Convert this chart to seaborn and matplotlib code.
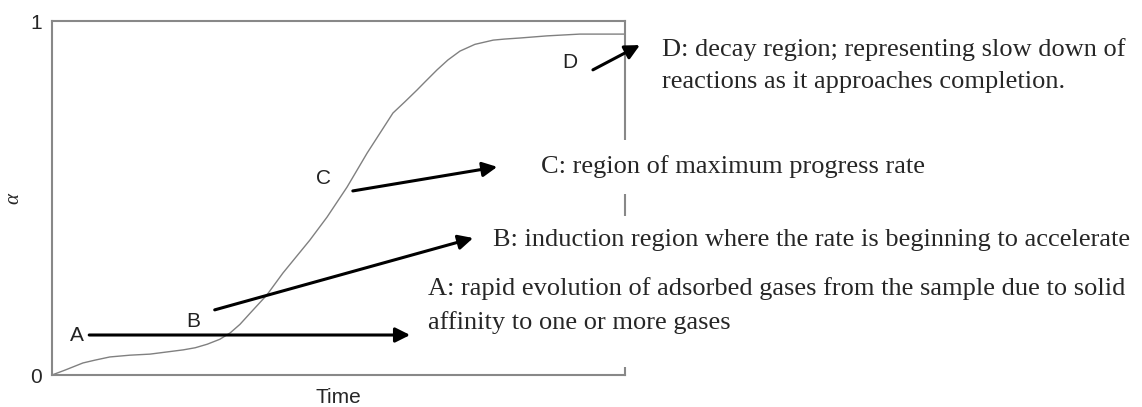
import numpy as np
import pandas as pd
import matplotlib
matplotlib.use("Agg")
import matplotlib.pyplot as plt
import seaborn as sns

# curve (time and alpha both scaled 0..1)
time_vals = [0.0, 0.023, 0.054, 0.075, 0.101, 0.136, 0.171, 0.229, 0.250, 0.271,
             0.293, 0.311, 0.328, 0.346, 0.375, 0.403, 0.450, 0.480, 0.515, 0.550,
             0.595, 0.616, 0.637, 0.651, 0.672, 0.691, 0.712, 0.738, 0.770, 0.790,
             0.817, 0.864, 0.921, 1.0]
alpha_vals = [0.0, 0.014, 0.034, 0.042, 0.051, 0.056, 0.059, 0.071, 0.077, 0.087,
              0.101, 0.119, 0.143, 0.175, 0.226, 0.288, 0.381, 0.446, 0.531, 0.627,
              0.740, 0.772, 0.805, 0.828, 0.862, 0.890, 0.915, 0.934, 0.946, 0.949,
              0.952, 0.958, 0.963, 0.963]

# region letters and where they sit
region_letters = ["A", "B", "C", "D"]
letter_x = [0.044, 0.246, 0.473, 0.904]
letter_y = [0.113, 0.150, 0.554, 0.884]

# arrows: start -> end
arrow_x0 = [0.065, 0.284, 0.525, 0.944]
arrow_y0 = [0.113, 0.184, 0.520, 0.862]
arrow_x1 = [0.625, 0.735, 0.777, 1.026]
arrow_y1 = [0.113, 0.387, 0.588, 0.932]

# explanatory notes
notes = [
    "A: rapid evolution of adsorbed gases from the sample due to solid\naffinity to one or more gases",
    "B: induction region where the rate is beginning to accelerate",
    "C: region of maximum progress rate",
    "D: decay region; representing slow down of\nreactions as it approaches completion.",
]
note_x = [0.656, 0.770, 0.853, 1.065]
note_y = [0.197, 0.381, 0.588, 0.874]
note_pad = [1.28, 0.5, 0.58, 0.3]

sns.set_style("white")
plt.rcParams['font.family'] = ['Liberation Sans', 'DejaVu Sans']

df = pd.DataFrame({"Time": time_vals, "alpha": alpha_vals})

fig = plt.figure(figsize=(11.42, 4.07), dpi=100)
ax = fig.add_axes([0.0455, 0.0786, 0.5018, 0.8698])
sns.lineplot(data=df, x="Time", y="alpha", ax=ax, color="#808080", linewidth=1.0)

ax.set_xlim(0, 1)
ax.set_ylim(0, 1)
ax.set_xticks([])
ax.set_yticks([0, 1])
ax.set_yticklabels(["0", "1"])
ax.tick_params(axis="y", length=0, pad=7, labelsize=15)
for s in ax.spines.values():
    s.set_color("#888888")
    s.set_linewidth(1.5)

ax.set_xlabel("Time", fontsize=15, labelpad=9)
ax.set_ylabel("α", fontsize=15, family=["Liberation Serif", "DejaVu Serif"], style="italic")
ax.yaxis.set_label_coords(-0.05, 0.5)

for lab, x, y in zip(region_letters, letter_x, letter_y):
    ax.text(x, y, lab, ha="center", va="center", fontsize=15, color="#222222")

# notes with white boxes (they hide part of the right frame)
for txt, x, y, p in zip(notes, note_x, note_y, note_pad):
    ax.text(x, y, txt, ha="left", va="center", fontsize=19, linespacing=1.6,
            family=["Liberation Serif", "DejaVu Serif"], clip_on=False, zorder=4,
            bbox=dict(boxstyle=f"square,pad={p}", facecolor="white", edgecolor="none"))

for x0, y0, x1, y1 in zip(arrow_x0, arrow_y0, arrow_x1, arrow_y1):
    ax.annotate("", xy=(x1, y1), xytext=(x0, y0), annotation_clip=False, zorder=6,
                arrowprops=dict(arrowstyle="-|>", mutation_scale=22, lw=2.2,
                                color="black", shrinkA=0, shrinkB=0))

plt.savefig("out.png", dpi=100)
